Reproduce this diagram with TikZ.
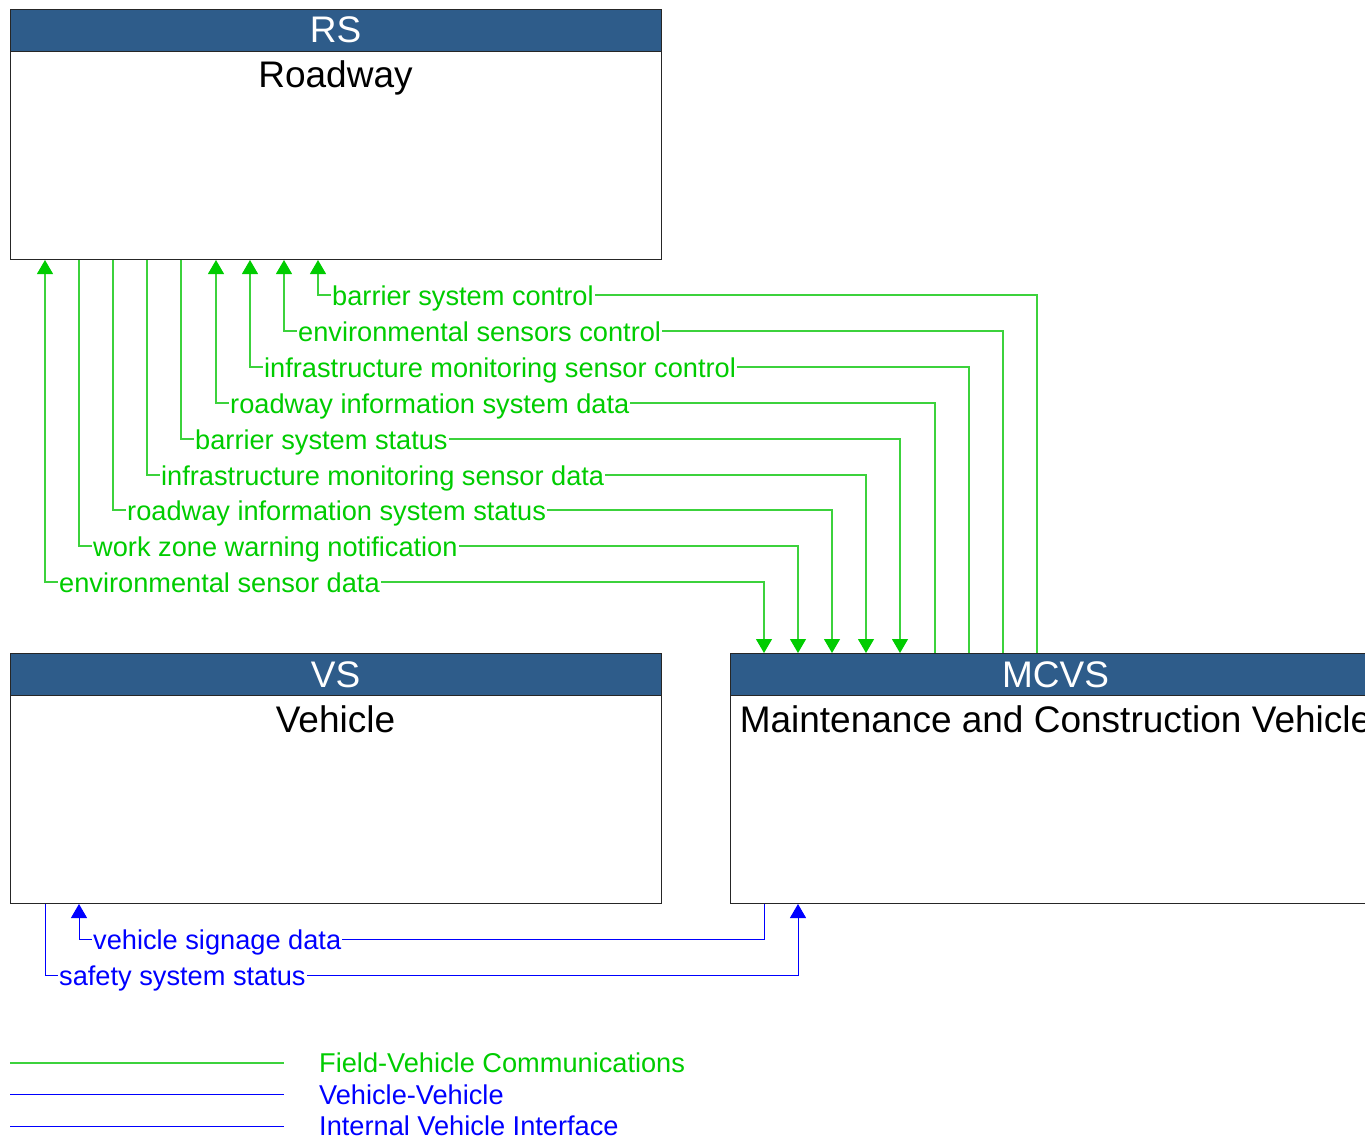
\documentclass[tikz,border=0pt]{standalone}
\usepackage{fontspec}
\setmainfont{Liberation Sans}
\usetikzlibrary{arrows.meta}
\definecolor{hdrblue}{RGB}{46,92,138}
\definecolor{flowgreen}{RGB}{0,204,0}
\definecolor{linegreen}{RGB}{60,210,60}
\definecolor{flowblue}{RGB}{0,0,255}
\tikzset{
  box/.style={draw=black!85, line width=1pt, fill=white, minimum width=651pt, minimum height=250pt, anchor=north west, inner sep=0pt},
  hdr/.style={draw=black!85, line width=1pt, fill=hdrblue, minimum width=651pt, minimum height=42pt, anchor=north west, inner sep=0pt},
  hdrtext/.style={text=white, font=\fontsize{37}{40}\selectfont, anchor=base, inner sep=0pt},
  titletext/.style={text=black, font=\fontsize{37}{40}\selectfont, anchor=base, inner sep=0pt},
  gline/.style={color=linegreen, line width=1.1pt},
  bline/.style={color=flowblue, line width=1pt},
  gflow/.style={gline, -{Triangle[width=16pt,length=14pt,fill=flowgreen,color=flowgreen]}},
  gflowboth/.style={gline, {Triangle[width=16pt,length=14pt,fill=flowgreen,color=flowgreen]}-{Triangle[width=16pt,length=14pt,fill=flowgreen,color=flowgreen]}},
  bflow/.style={bline, -{Triangle[width=16pt,length=14pt]}},
  glabel/.style={text=flowgreen, fill=white, font=\fontsize{27.2}{30}\selectfont, anchor=base west, inner xsep=1pt, inner ysep=2pt},
  blabel/.style={text=flowblue, fill=white, font=\fontsize{27.2}{30}\selectfont, anchor=base west, inner xsep=1pt, inner ysep=2pt},
  legtext/.style={font=\fontsize{27.2}{30}\selectfont, anchor=base west, inner sep=0pt},
}
\begin{document}
\begin{tikzpicture}[x=1pt,y=-1pt]
\useasboundingbox (0,0) rectangle (1365,1140);
% boxes
\node[box] (rs) at (10,9) {};
\node[hdr] (rsh) at (10,9) {};
\node[hdrtext] (rst) at (335.5,43) {RS};
\node[titletext] (rsn) at (335.5,88) {Roadway};

\node[box] (vs) at (10,653) {};
\node[hdr] (vsh) at (10,653) {};
\node[hdrtext] (vst) at (335.5,687) {VS};
\node[titletext] (vsn) at (335.5,732) {Vehicle};

\node[box] (mcvs) at (730,653) {};
\node[hdr] (mcvsh) at (730,653) {};
\node[hdrtext] (mcvst) at (1055.5,687) {MCVS};
\node[titletext] (mcvsn) at (1055.5,732) {Maintenance and Construction Vehicle};

% green flows MCVS -> RS
\draw[gflow] (1037,0 |- mcvsh.north) |- (318,295) -- (318,0 |- rs.south);
\node[glabel] (l1) at (331,305) {barrier system control};
\draw[gflow] (1003,0 |- mcvsh.north) |- (284,331) -- (284,0 |- rs.south);
\node[glabel] (l2) at (297,341) {environmental sensors control};
\draw[gflow] (969,0 |- mcvsh.north) |- (250,367) -- (250,0 |- rs.south);
\node[glabel] (l3) at (263,377) {infrastructure monitoring sensor control};
\draw[gflow] (935,0 |- mcvsh.north) |- (216,403) -- (216,0 |- rs.south);
\node[glabel] (l4) at (229,413) {roadway information system data};
% green flows RS -> MCVS
\draw[gflow] (181,0 |- rs.south) |- (900,439) -- (900,0 |- mcvsh.north);
\node[glabel] (l5) at (194,449) {barrier system status};
\draw[gflow] (147,0 |- rs.south) |- (866,475) -- (866,0 |- mcvsh.north);
\node[glabel] (l6) at (160,485) {infrastructure monitoring sensor data};
\draw[gflow] (113,0 |- rs.south) |- (832,510) -- (832,0 |- mcvsh.north);
\node[glabel] (l7) at (126,520) {roadway information system status};
\draw[gflow] (79,0 |- rs.south) |- (798,546) -- (798,0 |- mcvsh.north);
\node[glabel] (l8) at (92,556) {work zone warning notification};
\draw[gflowboth] (45,0 |- rs.south) |- (764,582) -- (764,0 |- mcvsh.north);
\node[glabel] (l9) at (58,592) {environmental sensor data};

% blue flows
\draw[bflow] (764,0 |- mcvs.south) |- (79,939) -- (79,0 |- vs.south);
\node[blabel] (b1) at (92,949) {vehicle signage data};
\draw[bflow] (45,0 |- vs.south) |- (798,975) -- (798,0 |- mcvs.south);
\node[blabel] (b2) at (58,985) {safety system status};

% legend
\coordinate (lg1a) at (10,1063); \coordinate (lg1b) at (284,1063);
\coordinate (lg2a) at (10,1094.5); \coordinate (lg2b) at (284,1094.5);
\coordinate (lg3a) at (10,1126.5); \coordinate (lg3b) at (284,1126.5);
\draw[gline] (lg1a) -- (lg1b);
\draw[bline] (lg2a) -- (lg2b);
\draw[bline] (lg3a) -- (lg3b);
\node[legtext, text=flowgreen] (lt1) at (319,1072) {Field-Vehicle Communications};
\node[legtext, text=flowblue] (lt2) at (319,1104) {Vehicle-Vehicle};
\node[legtext, text=flowblue] (lt3) at (319,1135) {Internal Vehicle Interface};
\end{tikzpicture}
\end{document}
